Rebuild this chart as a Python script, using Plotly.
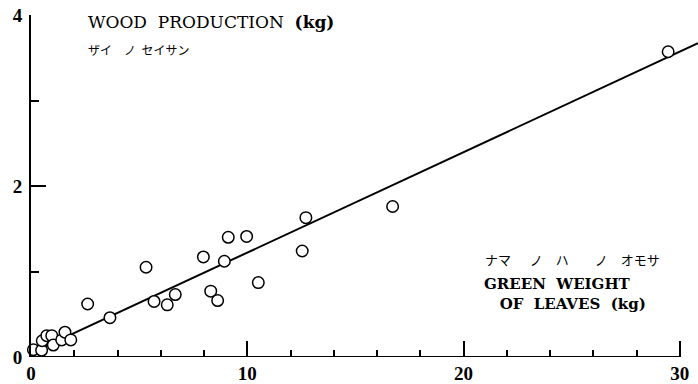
import plotly.graph_objects as go

# Data
leaves_kg = [0.11, 0.49, 0.52, 0.73, 0.96, 1.03, 1.42, 1.57, 1.84,
             2.62, 3.65, 5.32, 5.69, 6.30, 6.67, 7.97, 8.31, 8.63,
             8.94, 9.12, 9.97, 10.51, 12.54, 12.71, 16.72, 29.46]
wood_kg = [0.085, 0.078, 0.19, 0.25, 0.25, 0.14, 0.20, 0.29, 0.20,
           0.62, 0.46, 1.05, 0.65, 0.61, 0.73, 1.17, 0.77, 0.66,
           1.12, 1.40, 1.41, 0.87, 1.24, 1.63, 1.76, 3.57]
fit_intercept = 0.046
fit_slope = 0.1175

x_major = [0, 10, 20, 30]
y_major = [0, 2, 4]

X_MAX = 30.84
fit_x = [0, X_MAX]
fit_y = [fit_intercept + fit_slope * v for v in fit_x]

TICK_FONT = "Liberation Serif"
TXT_FONT = "DejaVu Serif"
NB = "\u00a0"

fig = go.Figure()
fig.add_trace(go.Scatter(x=fit_x, y=fit_y, mode="lines",
                         line=dict(color="black", width=2),
                         cliponaxis=False, hoverinfo="skip"))
fig.add_trace(go.Scatter(x=leaves_kg, y=wood_kg, mode="markers",
                         marker=dict(symbol="circle", size=11.5, color="white",
                                     line=dict(color="black", width=1.5)),
                         cliponaxis=False))

# x axis line only up to the last tick
fig.add_shape(type="line", xref="x", yref="y", x0=x_major[0], x1=x_major[-1],
              y0=0, y1=0, line=dict(color="black", width=2), layer="below")

fig.update_xaxes(range=[0, X_MAX], showgrid=False, zeroline=False, showline=False,
                 tickvals=x_major, ticktext=[str(v) for v in x_major],
                 ticks="inside", ticklen=16, tickwidth=1.5, tickcolor="black",
                 minor=dict(dtick=2, ticks="inside", ticklen=7, tickwidth=1.5,
                            tickcolor="black", showgrid=False),
                 tickfont=dict(family=TICK_FONT, size=19, color="black", weight="bold"),
                 ticklabelstandoff=3)
fig.update_yaxes(range=[0, 4], showgrid=False, zeroline=False, showline=True,
                 linecolor="black", linewidth=2,
                 tickvals=y_major, ticktext=[str(v) for v in y_major],
                 ticks="inside", ticklen=15, tickwidth=1.5, tickcolor="black",
                 minor=dict(dtick=1, ticks="inside", ticklen=8, tickwidth=1.5,
                            tickcolor="black", showgrid=False),
                 tickfont=dict(family=TICK_FONT, size=19, color="black", weight="bold"),
                 ticklabelstandoff=3)

ann_font = dict(family=TXT_FONT, size=17, color="black")
leaf_font = dict(family=TXT_FONT, size=15, color="black", weight="bold")
jp_font = dict(family="Noto Sans CJK JP", size=12, color="black")
annotations = [
    dict(text=f"WOOD{NB}{NB}PRODUCTION{NB}{NB}<b>(kg)</b>", x=86, y=22, font=ann_font),
    dict(text="ザイ　ノ" + NB * 2 + "セイサン", x=86, y=50, font=jp_font),
    dict(text="ナマ　" + NB + NB + "ノ　ハ　　ノ　オモサ", x=483, y=262,
         font=dict(jp_font, size=13)),
    dict(text=f"GREEN{NB}{NB}WEIGHT<br>{NB * 3}OF{NB}{NB}LEAVES{NB}{NB}(kg)", x=482, y=296,
         font=leaf_font),
]

fig.update_layout(width=698, height=384, margin=dict(l=31, r=0, t=15, b=24),
                  plot_bgcolor="white", paper_bgcolor="white", showlegend=False)

# annotation positions given in pixels, converted to plot-area paper coords
pw, ph = 698 - 31, 384 - 15 - 24
for a in annotations:
    fig.add_annotation(text=a["text"], x=(a["x"] - 31) / pw, y=(360 - a["y"]) / ph,
                       xref="paper", yref="paper", xanchor="left", yanchor="middle",
                       align="left", showarrow=False, font=a["font"])

fig.write_html("out.html")
